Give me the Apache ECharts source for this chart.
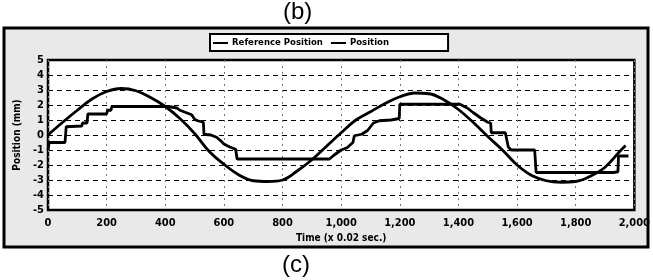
<!DOCTYPE html>
<html>
<head>
<meta charset="utf-8">
<script src="https://cdn.jsdelivr.net/npm/echarts@6/dist/echarts.min.js"></script>
<style>
  html, body { margin: 0; padding: 0; background: #fff; }
  #chart { width: 653px; height: 280px; }
</style>
</head>
<body>
<div id="chart"></div>
<script>
// values
const refTime = [0, 50, 100, 150, 200, 250, 300, 350, 400, 450, 500, 550, 600, 650, 700, 750, 800, 850, 900, 950,
  1000, 1050, 1100, 1150, 1200, 1250, 1300, 1350, 1400, 1450, 1500, 1550, 1600, 1650, 1700, 1750, 1800, 1850, 1900, 1950, 1970];
const refPos = [0.0, 0.85, 1.65, 2.4, 2.9, 3.1, 2.95, 2.5, 1.9, 1.1, 0.1, -1.1, -1.95, -2.65, -3.05, -3.1, -3.0, -2.4, -1.65, -0.75,
  0.15, 1.0, 1.55, 2.1, 2.55, 2.8, 2.75, 2.35, 1.7, 0.85, -0.1, -1.0, -2.0, -2.7, -3.05, -3.15, -3.1, -2.75, -2.15, -1.1, -0.7];

const posTime = [0, 4, 58, 62, 115, 118, 133, 136, 200, 203, 215, 218, 410, 440, 450, 470, 490, 500, 510, 530, 532,
  555, 575, 590, 600, 620, 640, 645, 960, 975, 1000, 1020, 1040, 1045, 1070, 1090, 1110, 1130, 1170, 1198, 1200,
  1405, 1430, 1450, 1475, 1500, 1510, 1512, 1560, 1570, 1580, 1660, 1665, 1930, 1944, 1946, 1980];
const posVal = [-1.0, -0.5, -0.5, 0.55, 0.6, 0.8, 0.8, 1.4, 1.4, 1.65, 1.65, 1.9, 1.9, 1.8, 1.65, 1.5, 1.35, 1.05, 0.95, 0.85, 0.05,
  0.0, -0.15, -0.4, -0.6, -0.8, -0.95, -1.6, -1.6, -1.35, -1.0, -0.85, -0.5, -0.05, 0.05, 0.3, 0.8, 0.95, 1.0, 1.1, 2.05,
  2.05, 1.8, 1.5, 1.15, 0.85, 0.8, 0.15, 0.15, -0.8, -1.0, -1.0, -2.5, -2.5, -2.45, -1.4, -1.4];

const xTicks = [0, 200, 400, 600, 800, 1000, 1200, 1400, 1600, 1800, 2000];
const yTicks = [-5, -4, -3, -2, -1, 0, 1, 2, 3, 4, 5];

const font = 'Liberation Sans';
const narrow = 'DejaVu Sans Condensed';
const chart = echarts.init(document.getElementById('chart'));

chart.setOption({
  animation: false,
  backgroundColor: '#fff',
  graphic: [
    { type: 'rect', z: -10, shape: { x: 4, y: 28, width: 644, height: 219 },
      style: { fill: '#e9e9e9', stroke: '#000', lineWidth: 3 } },
    { type: 'text', left: 283, top: 0, style: { text: '(b)', font: '24px ' + font, fill: '#000' } },
    { type: 'text', left: 282, top: 253, style: { text: '(c)', font: '24px ' + font, fill: '#000' } }
  ],
  legend: {
    left: 210, top: 34,
    padding: [4, 59, 3, 3],
    itemGap: 8,
    itemWidth: 15, itemHeight: 2,
    icon: 'rect',
    backgroundColor: '#fff',
    borderColor: '#000', borderWidth: 2,
    textStyle: { fontFamily: narrow, fontSize: 9.5, fontWeight: 'bold', color: '#000', padding: [0, 0, 0, -1] },
    data: ['Reference Position', 'Position']
  },
  grid: {
    left: 48, right: 16, top: 60, bottom: 70,
    show: true, backgroundColor: '#fff', borderColor: '#000', borderWidth: 2.5
  },
  xAxis: {
    type: 'value', min: 0, max: 2000, interval: 200,
    name: 'Time (x 0.02 sec.)', nameLocation: 'middle', nameGap: 23,
    nameTextStyle: { fontFamily: narrow, fontSize: 10, fontWeight: 'bold', color: '#000' },
    axisLine: { show: false },
    axisTick: { show: false },
    axisLabel: {
      fontFamily: narrow, fontSize: 11, fontWeight: 'bold', color: '#000', margin: 8,
      formatter: v => xTicks.includes(v) ? (v >= 1000 ? Math.floor(v / 1000) + ',' + String(v % 1000).padStart(3, '0') : String(v)) : ''
    },
    splitLine: { show: true, lineStyle: { color: '#777', type: [2, 4], width: 1 } }
  },
  yAxis: {
    type: 'value', min: -5, max: 5, interval: 1,
    name: 'Position (mm)', nameLocation: 'middle', nameGap: 22,
    nameTextStyle: { fontFamily: narrow, fontSize: 10, fontWeight: 'bold', color: '#000' },
    axisLine: { show: false },
    axisTick: { show: false },
    axisLabel: {
      fontFamily: narrow, fontSize: 11, fontWeight: 'bold', color: '#000', margin: 4,
      formatter: v => yTicks.includes(v) ? String(v) : ''
    },
    splitLine: { show: true, lineStyle: { color: '#000', type: [5, 4], width: 1 } }
  },
  series: [
    {
      name: 'Reference Position', type: 'line', smooth: 0.4, showSymbol: false,
      lineStyle: { color: '#000', width: 2.8 }, itemStyle: { color: '#000' },
      data: refTime.map((t, i) => [t, refPos[i]])
    },
    {
      name: 'Position', type: 'line', showSymbol: false,
      lineStyle: { color: '#000', width: 2.8 }, itemStyle: { color: '#000' },
      data: posTime.map((t, i) => [t, posVal[i]])
    }
  ]
});
</script>
</body>
</html>
